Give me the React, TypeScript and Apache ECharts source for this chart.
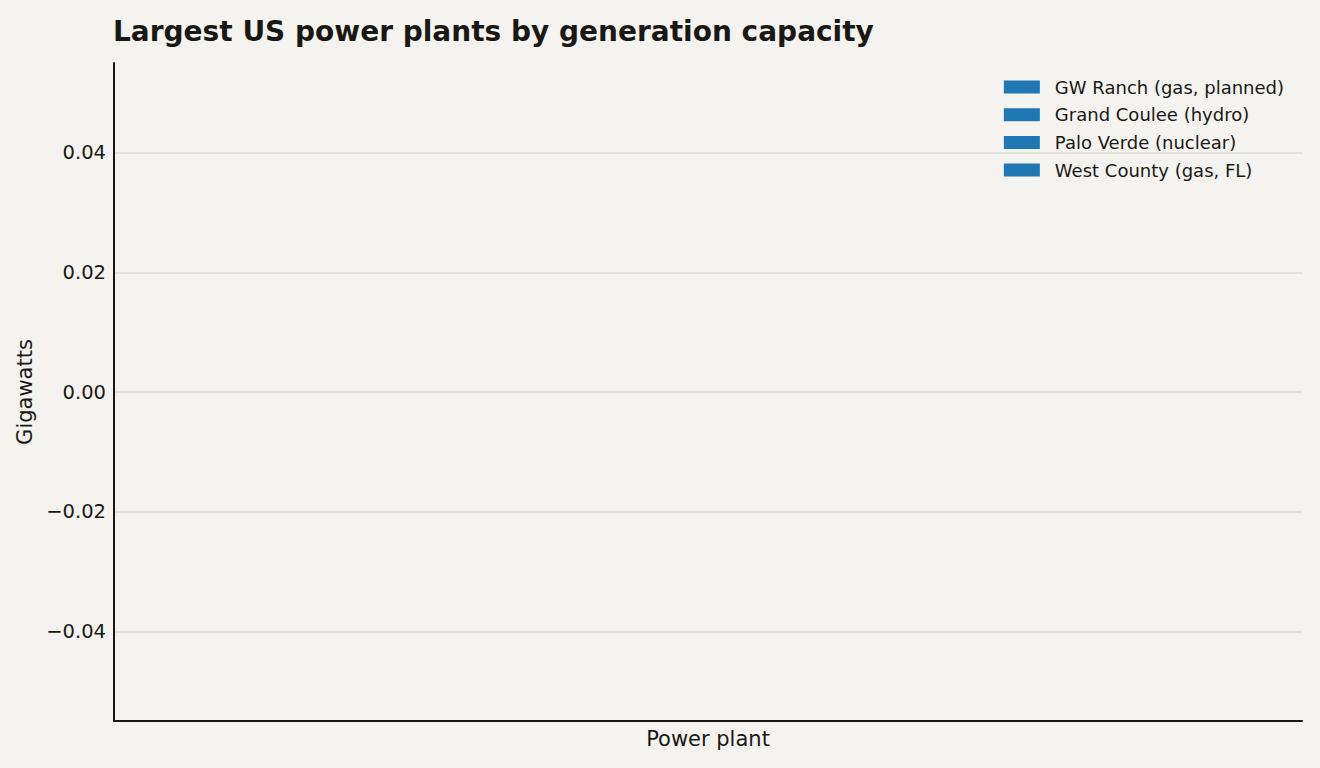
import React, { useEffect, useRef } from "react";
import * as echarts from "echarts";

// categories along the x axis (the source chart has no bars drawn)
const plants: string[] = [];

const seriesNames = [
  "GW Ranch (gas, planned)",
  "Grand Coulee (hydro)",
  "Palo Verde (nuclear)",
  "West County (gas, FL)",
];

// gigawatt values per series (empty in the reference)
const gwRanch: number[] = [];
const grandCoulee: number[] = [];
const paloVerde: number[] = [];
const westCounty: number[] = [];

const yTicks = [-0.04, -0.02, 0, 0.02, 0.04];

const FONT = "DejaVu Sans";
const INK = "#1a1814";
const BAR = "#1f77b4";

const fmt = (v: number) => {
  const s = Math.abs(v).toFixed(2);
  return v < -1e-12 ? "\u2212" + s : s;
};

const App = () => {
  const ref = useRef<HTMLDivElement>(null);

  useEffect(() => {
    if (!ref.current) return;
    const chart = echarts.init(ref.current, null, { renderer: "svg" });

    const values = [gwRanch, grandCoulee, paloVerde, westCounty];

    chart.setOption({
      animation: false,
      backgroundColor: "#f4f3ef",
      textStyle: { fontFamily: FONT, color: INK },
      title: {
        text: "Largest US power plants by generation capacity",
        left: 108,
        top: 12,
        textStyle: { fontFamily: FONT, fontWeight: "bold", fontSize: 28, color: INK },
      },
      legend: {
        orient: "vertical",
        right: 31,
        top: 73,
        icon: "rect",
        itemWidth: 36,
        itemHeight: 13,
        itemGap: 9.7,
        align: "left",
        data: seriesNames,
        textStyle: { fontFamily: FONT, fontSize: 18, color: INK, padding: [0, 0, 0, 10] },
      },
      grid: { left: 114, right: 18, top: 63, bottom: 47 },
      xAxis: {
        type: "category",
        data: plants,
        name: "Power plant",
        nameLocation: "middle",
        nameGap: 7,
        nameTextStyle: { fontFamily: FONT, fontSize: 21, color: INK, verticalAlign: "top" },
        axisLine: { show: true, onZero: false, lineStyle: { color: INK, width: 2 } },
        axisTick: { show: false },
        axisLabel: { show: false },
        splitLine: { show: false },
      },
      yAxis: {
        type: "value",
        min: -0.055,
        max: 0.055,
        name: "Gigawatts",
        nameLocation: "middle",
        nameGap: 76,
        nameTextStyle: { fontFamily: FONT, fontSize: 21, color: INK },
        axisLine: { show: true, lineStyle: { color: INK, width: 2 } },
        axisTick: { show: false, customValues: yTicks },
        axisLabel: {
          customValues: yTicks,
          formatter: fmt,
          fontFamily: FONT,
          fontSize: 19.5,
          color: INK,
          margin: 8,
        },
        splitLine: { show: true, lineStyle: { color: "#dddcd6", width: 1.5 } },
      },
      series: seriesNames.map((name, i) => ({
        name,
        type: "bar",
        data: values[i],
        itemStyle: { color: BAR },
      })),
    });

    return () => chart.dispose();
  }, []);

  return (
    <div
      ref={ref}
      style={{ position: "fixed", left: 0, top: 0, width: 1320, height: 768 }}
    />
  );
};

export default App;
